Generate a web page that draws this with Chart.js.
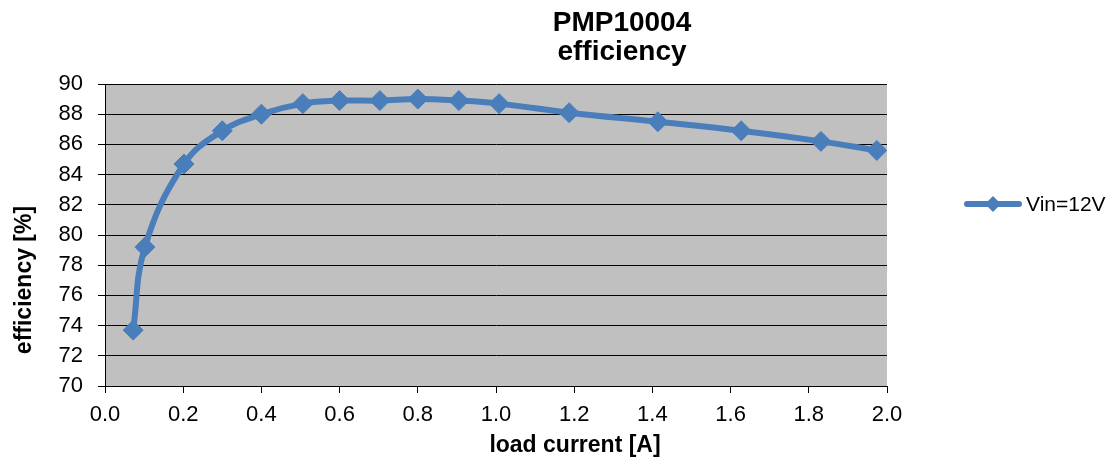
<!DOCTYPE html>
<html>
<head>
<meta charset="utf-8">
<script src="https://cdn.jsdelivr.net/npm/chart.js@4.4.1/dist/chart.umd.min.js"></script>
<style>
  html, body { margin: 0; padding: 0; background: #fff; }
  #wrap { width: 1115px; height: 466px; }
</style>
</head>
<body>
<div id="wrap"><canvas id="myChart" width="1115" height="466"></canvas></div>
<script>
// values
var loadCurrent = [0.072, 0.102, 0.202, 0.30, 0.40, 0.506, 0.60, 0.703, 0.80, 0.905, 1.008, 1.187, 1.414, 1.627, 1.831, 1.974];
var efficiency  = [73.7, 79.2, 84.7, 86.9, 88.0, 88.7, 88.9, 88.9, 89.0, 88.9, 88.7, 88.1, 87.5, 86.9, 86.2, 85.6];
var xTicks = [0, 0.2, 0.4, 0.6, 0.8, 1.0, 1.2, 1.4, 1.6, 1.8, 2.0];
var yTicks = [70, 72, 74, 76, 78, 80, 82, 84, 86, 88, 90];
var seriesName = 'Vin=12V';
var titleLines = ['PMP10004', 'efficiency'];
var xTitle = 'load current [A]';
var yTitle = 'efficiency [%]';

var blue = '#4a7ebb';
var fontFam = '"Liberation Sans", Arial, sans-serif';

var points = [];
for (var i = 0; i < loadCurrent.length; i++) {
    points.push({x: loadCurrent[i], y: efficiency[i]});
}

// grey plot background
var plotBg = {
    id: 'plotBg',
    beforeDraw: function (chart) {
        var a = chart.chartArea, ctx = chart.ctx;
        ctx.save();
        ctx.fillStyle = '#c0c0c0';
        ctx.fillRect(a.left, a.top, a.right - a.left, a.bottom - a.top);
        ctx.restore();
    }
};

// titles and legend, placed like the excel chart
var texts = {
    id: 'texts',
    afterDraw: function (chart) {
        var ctx = chart.ctx;
        ctx.save();
        ctx.fillStyle = '#000';
        ctx.textAlign = 'center';
        ctx.textBaseline = 'alphabetic';
        ctx.font = 'bold 28px ' + fontFam;
        ctx.fillText(titleLines[0], 622, 31);
        ctx.fillText(titleLines[1], 622, 60);

        ctx.font = 'bold 23px ' + fontFam;
        ctx.fillText(xTitle, 575, 452);

        ctx.save();
        ctx.translate(31, 280);
        ctx.rotate(-Math.PI / 2);
        ctx.fillText(yTitle, 0, 0);
        ctx.restore();

        // legend
        var ly = 204;
        ctx.strokeStyle = blue;
        ctx.lineWidth = 6;
        ctx.lineCap = 'round';
        ctx.beginPath();
        ctx.moveTo(967, ly);
        ctx.lineTo(1019, ly);
        ctx.stroke();
        ctx.fillStyle = blue;
        ctx.beginPath();
        ctx.moveTo(993, ly - 8);
        ctx.lineTo(1001, ly);
        ctx.lineTo(993, ly + 8);
        ctx.lineTo(985, ly);
        ctx.closePath();
        ctx.fill();
        ctx.fillStyle = '#000';
        ctx.textAlign = 'left';
        ctx.textBaseline = 'middle';
        ctx.font = '21px ' + fontFam;
        ctx.fillText(seriesName, 1026, ly + 1);
        ctx.restore();
    }
};

var ctx = document.getElementById('myChart').getContext('2d');
var effChart = new Chart(ctx, {
    type: 'scatter',
    data: {
        datasets: [{
            label: seriesName,
            data: points,
            showLine: true,
            borderColor: blue,
            backgroundColor: blue,
            borderWidth: 6,
            tension: 0.4,
            pointStyle: 'rectRot',
            pointRadius: 10,
            pointBorderWidth: 1,
            pointBorderColor: blue,
            pointBackgroundColor: blue
        }]
    },
    options: {
        responsive: false,
        animation: false,
        layout: { padding: { top: 84, right: 228, bottom: 0, left: 0 } },
        plugins: {
            legend: { display: false },
            title: { display: false },
            tooltip: { enabled: false }
        },
        scales: {
            x: {
                type: 'linear',
                min: 0,
                max: 2,
                afterBuildTicks: function (scale) {
                    scale.ticks = xTicks.map(function (v) { return {value: v}; });
                },
                afterFit: function (scale) { scale.height = 80; },
                ticks: {
                    color: '#000',
                    font: { family: fontFam, size: 22 },
                    padding: 9,
                    maxRotation: 0,
                    callback: function (v) { return Number(v).toFixed(1); }
                },
                grid: {
                    drawOnChartArea: false,
                    drawTicks: true,
                    tickLength: 7,
                    color: '#000'
                },
                border: { color: '#000', width: 1 }
            },
            y: {
                min: 70,
                max: 90,
                afterBuildTicks: function (scale) {
                    scale.ticks = yTicks.map(function (v) { return {value: v}; });
                },
                afterFit: function (scale) { scale.width = 105; },
                ticks: {
                    color: '#000',
                    font: { family: fontFam, size: 22 },
                    padding: 15
                },
                grid: {
                    color: '#000',
                    lineWidth: 1,
                    tickLength: 7
                },
                border: { color: '#000', width: 1 }
            }
        }
    },
    plugins: [plotBg, texts]
});
</script>
</body>
</html>
